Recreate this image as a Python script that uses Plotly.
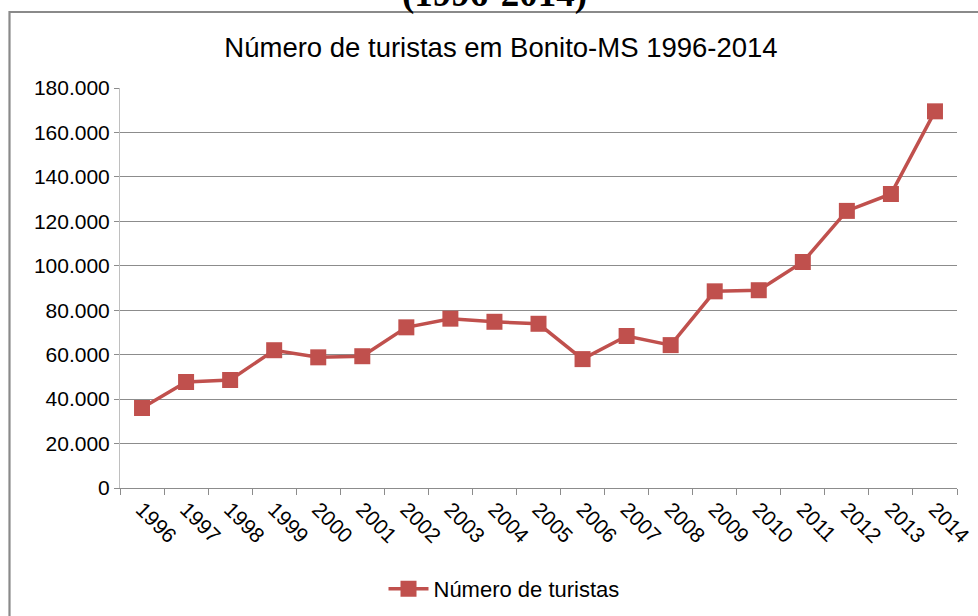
import plotly.graph_objects as go

years = ["1996", "1997", "1998", "1999", "2000", "2001", "2002", "2003", "2004", "2005",
         "2006", "2007", "2008", "2009", "2010", "2011", "2012", "2013", "2014"]
tourists = [36000, 47700, 48600, 62000, 58800, 59300, 72300, 76200, 74800, 73900,
            58000, 68400, 64300, 88500, 89000, 101700, 124700, 132300, 169500]
y_ticks = [0, 20000, 40000, 60000, 80000, 100000, 120000, 140000, 160000, 180000]
y_tick_labels = ["0", "20.000", "40.000", "60.000", "80.000", "100.000", "120.000",
                 "140.000", "160.000", "180.000"]

W, H = 978, 616
L, R, T, B = 120, 21, 88, 128
pw, ph = W - L - R, H - T - B

def px_x(p):
    return (p - L) / pw

def px_y(p):
    return (H - B - p) / ph

red = "#C0504D"

fig = go.Figure()
fig.add_trace(go.Scatter(
    x=years, y=tourists, mode="lines+markers", name="Número de turistas",
    line=dict(color=red, width=3.5),
    marker=dict(symbol="square", size=16, color=red),
))

fig.update_layout(
    width=W, height=H,
    margin=dict(l=L, r=R, t=T, b=B, autoexpand=False),
    paper_bgcolor="white", plot_bgcolor="white",
    font=dict(family="Liberation Sans, Arial, sans-serif", color="black"),
    title=dict(text="Número de turistas em Bonito-MS 1996-2014",
               x=501 / W, xanchor="center", xref="container", y=1 - 47 / H, yanchor="middle",
               font=dict(size=27.5, color="black")),
    showlegend=True,
    legend=dict(orientation="h", x=px_x(504), xanchor="center", y=px_y(589), yanchor="middle",
                font=dict(size=22), bgcolor="rgba(0,0,0,0)", itemwidth=40),
    xaxis=dict(type="category", tickson="boundaries", ticks="outside", ticklen=6,
               tickcolor="#8c8c8c", showline=True, linecolor="#8c8c8c", linewidth=1,
               showgrid=False, tickangle=45, tickfont=dict(size=21), range=[-0.5, 18.5],
               automargin=False),
    yaxis=dict(range=[0, 180000], tickvals=y_ticks, ticktext=y_tick_labels,
               ticks="outside", ticklen=5, tickcolor="#8c8c8c",
               showline=True, linecolor="#bfbfbf", linewidth=1,
               showgrid=True, gridcolor="#8c8c8c", gridwidth=1,
               tickfont=dict(size=21), zeroline=False, automargin=False),
    shapes=[dict(type="rect", xref="paper", yref="paper",
                 x0=px_x(9.5), x1=px_x(995), y0=px_y(640), y1=px_y(12),
                 line=dict(color="#8a8a8a", width=2.2), fillcolor="rgba(0,0,0,0)", layer="below")],
    annotations=[dict(text="<b>(1996-2014)</b>", xref="paper", yref="paper",
                      x=px_x(494), y=px_y(17), xanchor="center", yanchor="bottom",
                      showarrow=False, font=dict(family="Liberation Serif, Times New Roman, serif",
                                                 size=37, color="black"))],
)

fig.write_html("out.html", config={"displayModeBar": False},
               post_script="document.body.style.margin='0';document.body.style.overflow='hidden';")
